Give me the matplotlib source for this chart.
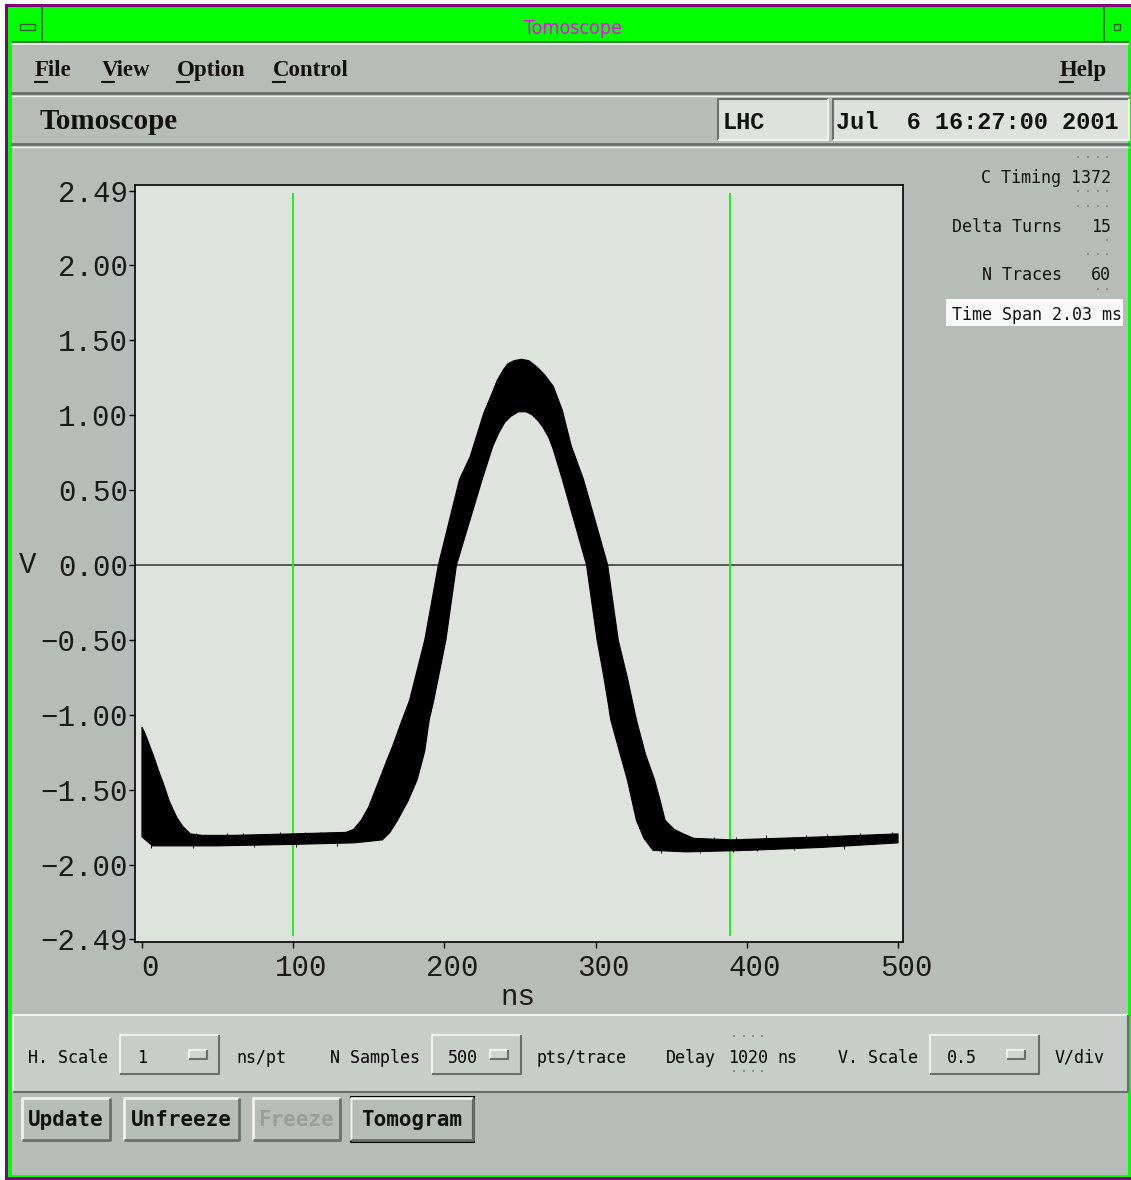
"""Tomoscope scope window: 60 stacked bunch traces with cursors and control panel."""

import matplotlib

matplotlib.use("Agg")
import matplotlib.pyplot as plt
from matplotlib.patches import Rectangle
from matplotlib.transforms import ScaledTranslation

W, H = 1131, 1180

# envelope of the stacked traces (ns, V)
upper_ns = [0, 2, 5, 8, 11, 14, 18, 23, 27, 32, 40, 60, 100, 135, 140, 145, 150,
            157, 162, 166, 171, 177, 187, 196, 210, 217, 226, 231, 235, 239, 242,
            246, 251, 256, 261, 266, 272, 278, 284, 292, 308, 315, 321, 327, 333,
            339, 343, 346, 352, 358, 365, 390, 450, 500]
upper_v = [-1.08, -1.12, -1.20, -1.28, -1.37, -1.45, -1.57, -1.68, -1.74, -1.79,
           -1.80, -1.80, -1.79, -1.78, -1.76, -1.70, -1.61, -1.43, -1.30, -1.20,
           -1.06, -0.90, -0.50, 0.00, 0.57, 0.72, 1.01, 1.13, 1.23, 1.30, 1.34,
           1.36, 1.37, 1.36, 1.32, 1.27, 1.19, 1.03, 0.79, 0.57, 0.00, -0.50,
           -0.75, -1.03, -1.26, -1.43, -1.58, -1.70, -1.76, -1.79, -1.82, -1.83,
           -1.81, -1.79]
lower_ns = [0, 7, 50, 100, 140, 150, 159, 164, 169, 176, 182, 187, 190, 193, 201,
            208, 225, 232, 236, 240, 244, 249, 254, 258, 262, 265, 269, 272, 278,
            294, 301, 305, 308, 310, 316, 321, 327, 332, 338, 360, 400, 450, 500]
lower_v = [-1.81, -1.87, -1.87, -1.86, -1.85, -1.84, -1.83, -1.78, -1.70, -1.57,
           -1.43, -1.24, -1.03, -0.90, -0.50, 0.00, 0.57, 0.79, 0.88, 0.95, 0.99,
           1.02, 1.02, 1.00, 0.96, 0.92, 0.85, 0.77, 0.57, 0.00, -0.50, -0.72,
           -0.90, -1.03, -1.25, -1.43, -1.70, -1.82, -1.90, -1.91, -1.90, -1.88,
           -1.85]

# single-sample noise excursions on the baseline (ns, tip V)
spike_ns = [36, 56, 67, 91, 108, 118, 378, 393, 413, 439, 453, 475, 496,
            6, 34, 74, 102, 129, 343, 369, 391, 407, 431, 464]
spike_v = [-1.785, -1.785, -1.785, -1.78, -1.78, -1.78, -1.81, -1.81, -1.80,
           -1.795, -1.79, -1.785, -1.775,
           -1.885, -1.885, -1.88, -1.875, -1.87, -1.915, -1.915, -1.91, -1.905,
           -1.90, -1.89]

cursor_ns = [100, 389]
x_ticks = [0, 100, 200, 300, 400, 500]
y_ticks = [2.49, 2.00, 1.50, 1.00, 0.50, 0.00, -0.50, -1.00, -1.50, -2.00, -2.49]

menu_left = ["File", "View", "Option", "Control"]
menu_help = "Help"
machine = "LHC"
timestamp = "Jul  6 16:27:00 2001"

c_timing = 1372
delta_turns = 15
n_traces = 60
time_span_ms = 2.03

h_scale = "1"
n_samples = "500"
delay_ns = "1020"
v_scale = "0.5"
buttons = ["Update", "Unfreeze", "Freeze", "Tomogram"]

PANEL = "#b8bcb8"
PANEL_LIGHT = "#c9cdc9"
PLOT_BG = "#dfe3de"
FIELD_BG = "#dee1dd"
HI = "#eef1ee"
LO = "#6b6f6b"
MONO = "DejaVu Sans Mono"


def bevel(ax, x0, y0, x1, y1, face, raised=True, lw=1.5):
    ax.add_patch(Rectangle((x0, y0), x1 - x0, y1 - y0, facecolor=face,
                           edgecolor="none"))
    hi, lo = (HI, LO) if raised else (LO, HI)
    ax.plot([x0, x0, x1], [y1, y0, y0], color=hi, lw=lw, solid_capstyle="butt")
    ax.plot([x0, x1, x1], [y1, y1, y0], color=lo, lw=lw, solid_capstyle="butt")


def spin_dots(ax, xs, y):
    ax.scatter(xs, [y] * len(xs), s=3, marker="s", color="#8c908c", lw=0)


fig = plt.figure(figsize=(W / 100, H / 100), dpi=100)
bg = fig.add_axes([0, 0, 1, 1])
bg.set_xlim(0, W)
bg.set_ylim(H, 0)
bg.axis("off")

# window frame and title bar
bg.add_patch(Rectangle((5, 4), W - 5, H - 4, facecolor="#800080", edgecolor="none"))
bg.add_patch(Rectangle((8, 7), W - 8, H - 10, facecolor="#00ff00", edgecolor="none"))
bg.plot([42, 42], [7, 42], color="#3c5a3c", lw=1.2)
bg.plot([1104, 1104], [7, 42], color="#3c5a3c", lw=1.2)
bg.plot([12, 1128], [42, 42], color="#3c5a3c", lw=1.2)
bg.add_patch(Rectangle((20, 24), 15, 6, facecolor="none", edgecolor="#3c5a3c", lw=1))
bg.add_patch(Rectangle((1114, 24), 6, 6, facecolor="none", edgecolor="#3c5a3c", lw=1))
bg.text(573, 34, "Tomoscope", color="#ff00ff", fontsize=14, ha="center",
        va="baseline", family="DejaVu Sans", stretch="condensed")

# main panel
bg.add_patch(Rectangle((12, 43), 1116, 1132, facecolor=PANEL, edgecolor="none"))
bg.plot([12, 1128], [44, 44], color=HI, lw=1.2)
bg.plot([12, 1128], [93, 93], color=LO, lw=2)
bg.plot([12, 1128], [95.5, 95.5], color=HI, lw=1)
bg.plot([12, 1128], [144, 144], color=LO, lw=2)
bg.plot([12, 1128], [146.5, 146.5], color=HI, lw=1)

# menu bar
menu_x = [35, 102, 177, 273]
for label, x in zip(menu_left, menu_x):
    bg.text(x, 76, label, fontsize=16.5, family="Liberation Serif", weight="bold",
            va="baseline", color="#111111")
    bg.plot([x, x + 12], [82, 82], color="#111111", lw=1.5)
bg.text(1060, 76, menu_help, fontsize=16.5, family="Liberation Serif",
        weight="bold", va="baseline", color="#111111")
bg.plot([1060, 1073], [82, 82], color="#111111", lw=1.5)

# header row
bg.text(40, 129, "Tomoscope", fontsize=21, family="Liberation Serif",
        weight="bold", va="baseline", color="#111111")
bevel(bg, 718, 99, 828, 140, FIELD_BG, raised=False)
bevel(bg, 833, 99, 1129, 140, FIELD_BG, raised=False)
bg.text(723, 129, machine, fontsize=17, family="Liberation Mono", weight="bold",
        va="baseline", color="#111111")
bg.text(836, 129, timestamp, fontsize=17, family="Liberation Mono", weight="bold",
        va="baseline", color="#111111")

# acquisition settings on the right
bg.text(1111, 183, f"C Timing {c_timing}", fontsize=12, family=MONO,
        ha="right", va="baseline", color="#111111")
bg.text(1062, 232, "Delta Turns", fontsize=12, family=MONO, ha="right",
        va="baseline", color="#111111")
bg.text(1111, 232, str(delta_turns), fontsize=12, family=MONO, ha="right",
        va="baseline", color="#111111")
bg.text(1062, 280, "N Traces", fontsize=12, family=MONO, ha="right",
        va="baseline", color="#111111")
bg.text(1111, 280, str(n_traces), fontsize=12, family=MONO, ha="right",
        va="baseline", color="#111111")
spin_dots(bg, [1078, 1088, 1098, 1107], 157)
spin_dots(bg, [1078, 1088, 1098, 1107], 191)
spin_dots(bg, [1078, 1088, 1098, 1107], 206)
spin_dots(bg, [1107], 240)
spin_dots(bg, [1088, 1098, 1107], 254)
spin_dots(bg, [1098, 1107], 289)
bg.add_patch(Rectangle((946, 299), 177, 27, facecolor="#f7f8f7", edgecolor="none"))
bg.text(952, 320, f"Time Span {time_span_ms:.2f} ms", fontsize=12, family=MONO,
        va="baseline", color="#111111")

# axis titles
bg.text(28, 573, "V", fontsize=21, family="Liberation Mono", ha="center",
        va="baseline", color="#1a1a1a")
bg.text(518, 1005, "ns", fontsize=21, family="Liberation Mono", ha="center",
        va="baseline", color="#1a1a1a")

# control panel
bevel(bg, 13, 1015, 1128, 1092, PANEL_LIGHT, raised=True)
ctrl_y = 1063
bg.text(28, ctrl_y, "H. Scale", fontsize=12, family=MONO, va="baseline")
bevel(bg, 120, 1035, 219, 1074, PANEL_LIGHT)
bg.text(137, ctrl_y, h_scale, fontsize=12, family=MONO, va="baseline")
bevel(bg, 189, 1050, 207, 1059, "#d0d4d0")
bg.text(236, ctrl_y, "ns/pt", fontsize=12, family=MONO, va="baseline")
bg.text(330, ctrl_y, "N Samples", fontsize=12, family=MONO, va="baseline")
bevel(bg, 432, 1035, 521, 1074, PANEL_LIGHT)
bg.text(448, ctrl_y, n_samples, fontsize=12, family=MONO, va="baseline")
bevel(bg, 490, 1050, 508, 1059, "#d0d4d0")
bg.text(537, ctrl_y, "pts/trace", fontsize=12, family=MONO, va="baseline")
bg.text(666, ctrl_y, "Delay", fontsize=12, family=MONO, va="baseline")
bg.text(728, ctrl_y, delay_ns, fontsize=12, family=MONO, va="baseline")
spin_dots(bg, [734, 744, 753, 762], 1036)
spin_dots(bg, [734, 744, 753, 762], 1071)
bg.text(777, ctrl_y, "ns", fontsize=12, family=MONO, va="baseline")
bg.text(838, ctrl_y, "V. Scale", fontsize=12, family=MONO, va="baseline")
bevel(bg, 930, 1035, 1039, 1074, PANEL_LIGHT)
bg.text(947, ctrl_y, v_scale, fontsize=12, family=MONO, va="baseline")
bevel(bg, 1007, 1050, 1025, 1059, "#d0d4d0")
bg.text(1055, ctrl_y, "V/div", fontsize=12, family=MONO, va="baseline")

# push buttons
btn_boxes = [(22, 110), (124, 239), (253, 340), (351, 473)]
for label, (x0, x1) in zip(buttons, btn_boxes):
    bevel(bg, x0, 1098, x1, 1140, PANEL, raised=True, lw=2)
    color = "#9a9e9a" if label == "Freeze" else "#111111"
    bg.text((x0 + x1) / 2, 1126, label, fontsize=15, family=MONO, weight="bold",
            ha="center", va="baseline", color=color)
bg.add_patch(Rectangle((351, 1097), 122, 44, facecolor="none",
                       edgecolor="black", lw=2.2))

# scope display
ax = fig.add_axes([135 / W, 1 - 942 / H, 768 / W, 757 / H])
ax.set_facecolor(PLOT_BG)
ax.set_xlim(-4.6, 503.3)
ax.set_ylim(-2.51, 2.53)
for s in ax.spines.values():
    s.set_linewidth(1.2)
    s.set_color("black")

ax.axhline(0, color="#3a3f3a", lw=1.2, zorder=1)
ax.vlines(cursor_ns, -2.47, 2.48, color="#22ee22", lw=1.4, zorder=2)
ax.fill(upper_ns + lower_ns[::-1], upper_v + lower_v[::-1], color="black",
        lw=0.8, zorder=3)
ax.vlines(spike_ns, -1.84, spike_v, color="black", lw=0.7, zorder=3)

ax.set_xticks(x_ticks, labels=[str(t) for t in x_ticks])
ax.set_yticks(y_ticks, labels=[f"{t:.2f}".replace("-", "\u2212") for t in y_ticks])
ax.tick_params(direction="out", length=4, width=1, color="black",
               labelsize=21, labelcolor="#1a1a1a", pad=1)
ax.tick_params(axis="x", pad=5)
for lbl in ax.get_xticklabels() + ax.get_yticklabels():
    lbl.set_family("Liberation Mono")
for lbl in ax.get_xticklabels():
    lbl.set_transform(lbl.get_transform()
                      + ScaledTranslation(8 / 100, 0, fig.dpi_scale_trans))

fig.savefig("out.png", dpi=100)
plt.close(fig)
